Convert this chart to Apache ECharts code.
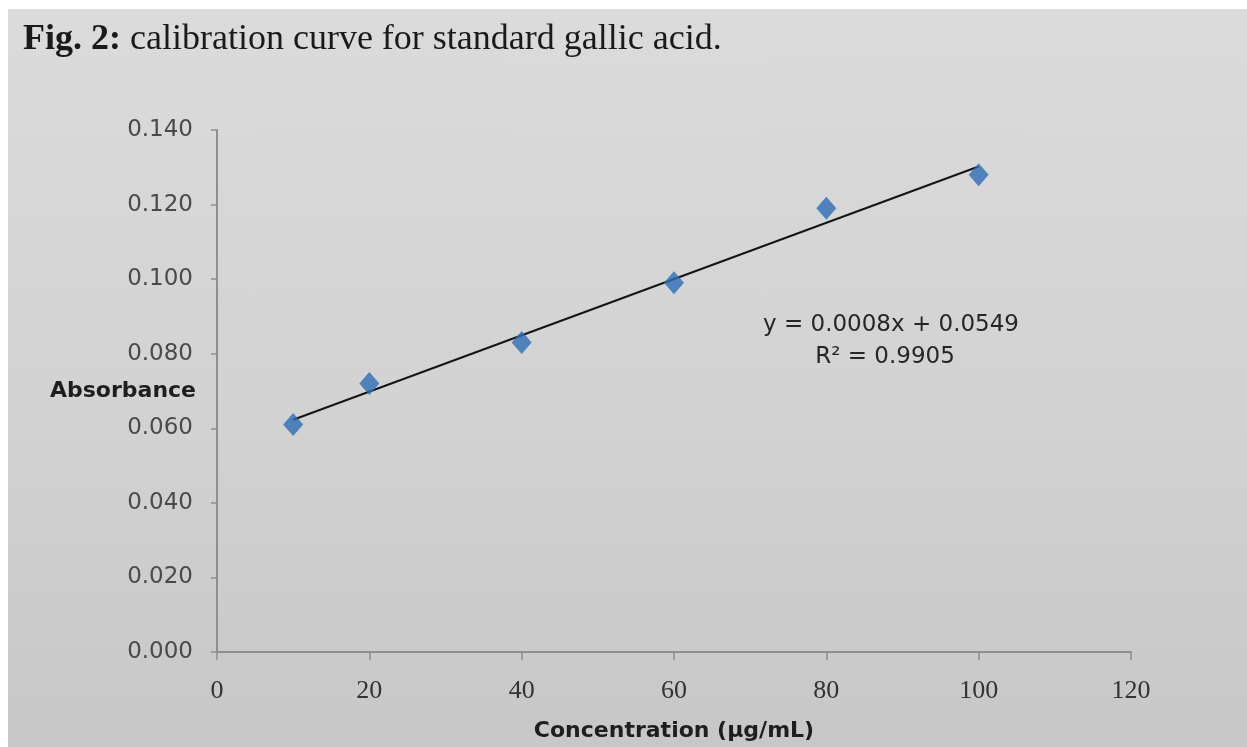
<!DOCTYPE html>
<html>
<head>
<meta charset="utf-8">
<script src="https://cdn.jsdelivr.net/npm/echarts@6/dist/echarts.min.js"></script>
<style>
  html, body { margin: 0; padding: 0; background: #ffffff; width: 1247px; height: 747px; overflow: hidden; }
  #bg { position: absolute; left: 8px; top: 9px; right: 0; bottom: 0;
        background: linear-gradient(to bottom, #dcdbdb 0%, #d3d2d2 55%, #c8c7c7 100%); }
  #main { position: absolute; left: 0; top: 0; width: 1247px; height: 747px; }
</style>
</head>
<body>
<div id="bg"></div>
<div id="main"></div>
<script>
// Data
const concentration = [10, 20, 40, 60, 80, 100];
const absorbance = [0.061, 0.072, 0.083, 0.099, 0.119, 0.128];
// Linear trendline end points (as drawn in the picture)
const trendX = [10, 100];
const trendY = [0.0623, 0.1302];
const yTicks = [0, 0.02, 0.04, 0.06, 0.08, 0.10, 0.12, 0.14];
const xTicks = [0, 20, 40, 60, 80, 100, 120];
const titleBold = 'Fig. 2:';
const titleRest = ' calibration curve for standard gallic acid.';
const equationText = 'y = 0.0008x + 0.0549';
const r2Text = 'R\u00B2 = 0.9905';

const chart = echarts.init(document.getElementById('main'), null, { renderer: 'canvas' });

const points = concentration.map((x, i) => [x, absorbance[i]]);
const trend = trendX.map((x, i) => [x, trendY[i]]);

chart.setOption({
  backgroundColor: 'transparent',
  animation: false,
  title: {
    text: '{b|' + titleBold + '}{r|' + titleRest + '}',
    left: 18, top: 17,
    textStyle: {
      rich: {
        b: { fontFamily: 'Liberation Serif', fontWeight: 'bold', fontSize: 36, color: '#1a1a1a' },
        r: { fontFamily: 'Liberation Serif', fontWeight: 'normal', fontSize: 36, color: '#1a1a1a' }
      }
    }
  },
  grid: { left: 217, right: 116, top: 130, bottom: 95, containLabel: false, outerBoundsMode: 'none' },
  xAxis: {
    type: 'value', min: xTicks[0], max: xTicks[xTicks.length - 1], interval: 20,
    name: 'Concentration (\u00B5g/mL)', nameLocation: 'middle', nameGap: 68, nameMoveOverlap: false,
    nameTextStyle: { fontFamily: 'DejaVu Sans', fontWeight: 'bold', fontSize: 22, color: '#1e1e1e' },
    axisLine: { show: true, lineStyle: { color: '#8f8f8f', width: 2 } },
    axisTick: { show: true, length: 8, lineStyle: { color: '#8f8f8f', width: 1.5 } },
    axisLabel: { margin: 26, fontFamily: 'Liberation Serif', fontSize: 26, color: '#333333' },
    splitLine: { show: false }
  },
  yAxis: {
    type: 'value', min: yTicks[0], max: yTicks[yTicks.length - 1], interval: 0.02,
    name: 'Absorbance', nameLocation: 'middle', nameRotate: 0, nameGap: 21, nameMoveOverlap: false,
    nameTextStyle: { fontFamily: 'DejaVu Sans', fontWeight: 'bold', fontSize: 22, color: '#1e1e1e', align: 'right' },
    axisLine: { show: true, lineStyle: { color: '#8f8f8f', width: 2 } },
    axisTick: { show: true, length: 6, lineStyle: { color: '#8f8f8f', width: 1.5 } },
    axisLabel: { margin: 24, fontFamily: 'DejaVu Sans', fontSize: 23, color: '#4a4a4a',
                 formatter: v => v.toFixed(3) },
    splitLine: { show: false }
  },
  series: [
    {
      type: 'line', data: trend, symbol: 'none', z: 3,
      lineStyle: { color: '#151515', width: 2 }
    },
    {
      type: 'scatter', data: points, symbol: 'diamond', symbolSize: [20, 23], z: 4,
      itemStyle: { color: '#2d6db5' }
    }
  ],
  graphic: [
    { type: 'text', x: 891, y: 325,
      style: { text: equationText, fontFamily: 'DejaVu Sans', fontSize: 23, fill: '#262626',
               align: 'center', verticalAlign: 'middle' } },
    { type: 'text', x: 885, y: 357,
      style: { text: r2Text, fontFamily: 'DejaVu Sans', fontSize: 23, fill: '#262626',
               align: 'center', verticalAlign: 'middle' } }
  ]
});
</script>
</body>
</html>
